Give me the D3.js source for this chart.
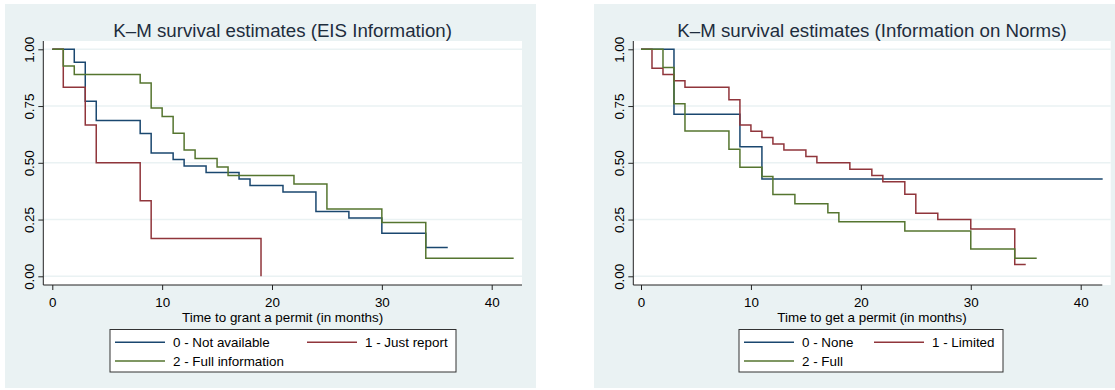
<!DOCTYPE html>
<html>
<head>
<meta charset="utf-8">
<script src="https://cdn.jsdelivr.net/npm/d3@7"></script>
<style>
  body { margin: 0; background: #fff; }
  svg { display: block; font-family: "Liberation Sans", Arial, sans-serif; }
</style>
</head>
<body>
<svg width="1115" height="390"></svg>
<script>
// tick values shared by both panels
const xTicks = [0, 10, 20, 30, 40];
const yTicks = [0, 0.25, 0.5, 0.75, 1];

// left panel: EIS information (time of each drop, survival after it, last follow-up)
const eisNotAvailT = [0, 2, 3, 4, 8, 9, 11, 12, 14, 17, 18, 21, 24, 27, 30, 34];
const eisNotAvailS = [1, 0.943, 0.771, 0.686, 0.629, 0.543, 0.514, 0.486, 0.457, 0.429, 0.4, 0.371, 0.286, 0.257, 0.19, 0.127];
const eisNotAvailEnd = 36;
const eisReportT = [0, 1, 3, 4, 8, 9, 19];
const eisReportS = [1, 0.833, 0.667, 0.5, 0.333, 0.167, 0];
const eisReportEnd = 19;
const eisFullT = [0, 1, 2, 8, 9, 10, 11, 12, 13, 15, 16, 22, 25, 30, 34];
const eisFullS = [1, 0.926, 0.889, 0.852, 0.741, 0.704, 0.63, 0.556, 0.519, 0.481, 0.444, 0.407, 0.296, 0.237, 0.079];
const eisFullEnd = 42;

// right panel: information on norms
const normNoneT = [0, 3, 9, 11];
const normNoneS = [1, 0.714, 0.571, 0.429];
const normNoneEnd = 42;
const normLimT = [0, 1, 2, 3, 4, 8, 9, 10, 11, 12, 13, 15, 16, 19, 21, 22, 24, 25, 27, 30, 34];
const normLimS = [1, 0.917, 0.889, 0.861, 0.833, 0.778, 0.667, 0.639, 0.611, 0.583, 0.556, 0.528, 0.5, 0.472, 0.444, 0.417, 0.361, 0.278, 0.25, 0.208, 0.052];
const normLimEnd = 35;
const normFullT = [0, 2, 3, 4, 8, 9, 11, 12, 14, 17, 18, 24, 30, 34];
const normFullS = [1, 0.92, 0.76, 0.64, 0.56, 0.48, 0.44, 0.36, 0.32, 0.28, 0.24, 0.2, 0.12, 0.08];
const normFullEnd = 36;

const navy = "#1a476f", maroon = "#90353b", green = "#55752f";
const bg = "#eaf2f3";

var svg = d3.select("svg");

function stepPoints(t, s, end) {
    let pts = t.map((d, i) => [d, s[i]]);
    pts.push([end, s[s.length - 1]]);
    return pts;
}

function drawPanel(p) {
    var g = svg.append("g");

    g.append("rect")
        .attr("x", p.left).attr("y", 4)
        .attr("width", p.right - p.left).attr("height", 384)
        .attr("fill", bg);

    var x = d3.scaleLinear().domain([0, 40]).range([p.x0, p.x40]);
    var y = d3.scaleLinear().domain([0, 1]).range([276.3, 49.3]);

    // white plot region
    g.append("rect")
        .attr("x", p.axisX).attr("y", 41)
        .attr("width", p.plotRight - p.axisX).attr("height", 285 - 41)
        .attr("fill", "#fff");

    // grid
    g.selectAll(".grid").data(yTicks).enter().append("line")
        .attr("x1", p.axisX).attr("x2", p.plotRight)
        .attr("y1", d => y(d)).attr("y2", d => y(d))
        .attr("stroke", bg).attr("stroke-width", 1.6);

    // y axis
    var yAxis = g.append("g")
        .attr("transform", "translate(" + p.axisX + ",0)")
        .call(d3.axisLeft(y).tickValues(yTicks).tickFormat(d3.format(".2f")).tickSize(5).tickSizeOuter(0));
    yAxis.select(".domain").attr("d", "M0,41V285").attr("stroke", "#222");
    yAxis.selectAll(".tick line").attr("stroke", "#222");
    yAxis.selectAll(".tick text")
        .attr("x", null).attr("dy", null)
        .attr("transform", "translate(-9,0) rotate(-90)")
        .attr("text-anchor", "middle")
        .attr("fill", "#000")
        .style("font-size", "13.4px");

    // x axis
    var xAxis = g.append("g")
        .attr("transform", "translate(0,285)")
        .call(d3.axisBottom(x).tickValues(xTicks).tickSize(5).tickSizeOuter(0));
    xAxis.select(".domain").attr("d", "M" + p.axisX + ",0H" + p.axisEnd).attr("stroke", "#222");
    xAxis.selectAll(".tick line").attr("stroke", "#222");
    xAxis.selectAll(".tick text")
        .attr("y", 21.5).attr("dy", null)
        .attr("fill", "#000")
        .style("font-size", "13.4px");

    var mid = (p.axisX + p.plotRight) / 2;

    g.append("text")
        .attr("x", mid).attr("y", 321.5)
        .attr("text-anchor", "middle")
        .style("font-size", "13.4px")
        .text(p.xTitle);

    g.append("text")
        .attr("x", mid).attr("y", 36.5)
        .attr("text-anchor", "middle")
        .attr("fill", "#1e2d3d")
        .style("font-size", "18.7px")
        .text(p.title);

    var line = d3.line()
        .x(d => x(d[0]))
        .y(d => y(d[1]))
        .curve(d3.curveStepAfter);

    p.series.forEach(function(s) {
        g.append("path")
            .attr("d", line(s.pts))
            .attr("fill", "none")
            .attr("stroke", s.color)
            .attr("stroke-width", 1.5);
    });

    // legend
    g.append("rect")
        .attr("x", p.legX).attr("y", 329.5)
        .attr("width", p.legW).attr("height", 42.5)
        .attr("fill", "#fff").attr("stroke", "#333").attr("stroke-width", 1);

    p.series.forEach(function(s, i) {
        var col = i % 2, row = Math.floor(i / 2);
        var lx = p.legX + 5 + col * p.legCol;
        var ly = 342.3 + row * 18.7;
        g.append("line")
            .attr("x1", lx).attr("x2", lx + 50)
            .attr("y1", ly).attr("y2", ly)
            .attr("stroke", s.color).attr("stroke-width", 1.5);
        g.append("text")
            .attr("x", lx + 58).attr("y", ly + 4.8)
            .style("font-size", "13.4px")
            .text(s.name);
    });
}

drawPanel({
    left: 5, right: 536,
    axisX: 43.3, plotRight: 522, axisEnd: 522,
    x0: 52.3, x40: 491.7,
    title: "K\u2013M survival estimates (EIS Information)",
    xTitle: "Time to grant a permit (in months)",
    legX: 110, legW: 346, legCol: 192,
    series: [
        { name: "0 - Not available", color: navy, pts: stepPoints(eisNotAvailT, eisNotAvailS, eisNotAvailEnd) },
        { name: "1 - Just report", color: maroon, pts: stepPoints(eisReportT, eisReportS, eisReportEnd) },
        { name: "2 - Full information", color: green, pts: stepPoints(eisFullT, eisFullS, eisFullEnd) }
    ]
});

drawPanel({
    left: 594, right: 1115,
    axisX: 633.3, plotRight: 1110.7, axisEnd: 1102.3,
    x0: 641, x40: 1080.7,
    title: "K\u2013M survival estimates (Information on Norms)",
    xTitle: "Time to get a permit (in months)",
    legX: 739, legW: 264, legCol: 130,
    series: [
        { name: "0 - None", color: navy, pts: stepPoints(normNoneT, normNoneS, normNoneEnd) },
        { name: "1 - Limited", color: maroon, pts: stepPoints(normLimT, normLimS, normLimEnd) },
        { name: "2 - Full", color: green, pts: stepPoints(normFullT, normFullS, normFullEnd) }
    ]
});
</script>
</body>
</html>
